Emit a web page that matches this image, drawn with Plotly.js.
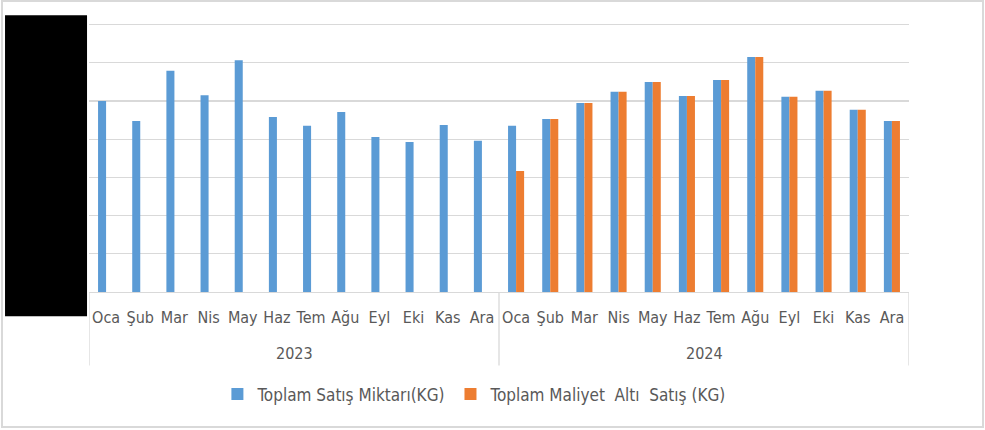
<!DOCTYPE html>
<html>
<head>
<meta charset="utf-8">
<script src="https://cdn.plot.ly/plotly-3.0.1.min.js"></script>
<style>
  body { margin: 0; background: #fff; }
  #wrap { position: relative; width: 985px; height: 430px; }
  #chart { width: 985px; height: 430px; }
  #frame {
    position: absolute; left: 1px; top: 0; width: 979px; height: 424px;
    border: 2px solid #d9d9d9; pointer-events: none;
  }
</style>
</head>
<body>
<div id="wrap">
  <div id="chart"></div>
  <div id="frame"></div>
</div>
<script>
/* global Plotly */
// y values read off the gridlines (one unit per gridline, axis labels are masked)
const years = ["2023", "2024"];
const months = ["Oca", "Şub", "Mar", "Nis", "May", "Haz", "Tem", "Ağu", "Eyl", "Eki", "Kas", "Ara"];

const satis2023 = [5.0, 4.48, 5.79, 5.15, 6.07, 4.58, 4.35, 4.71, 4.06, 3.93, 4.37, 3.96];
const satis2024 = [4.35, 4.53, 4.95, 5.24, 5.5, 5.13, 5.55, 6.15, 5.11, 5.27, 4.77, 4.48];
const maliyetAlti2023 = [null, null, null, null, null, null, null, null, null, null, null, null];
const maliyetAlti2024 = [3.17, 4.53, 4.95, 5.24, 5.5, 5.13, 5.55, 6.15, 5.11, 5.27, 4.77, 4.48];

const seriesNames = ["Toplam Satış Miktarı(KG)", "Toplam Maliyet  Altı  Satış (KG)"];
const colors = ["#5b9bd5", "#ed7d31"];

const textColor = "#595959";
const gridColor = "#d9d9d9";
const font = "'DejaVu Sans Condensed', 'Liberation Sans', sans-serif";

// one slot per (year, month); the month is the tick, the year goes below
const slots = [];
years.forEach((y) => months.forEach((m) => slots.push({ year: y, month: m })));
const xIdx = slots.map((_, i) => i);

function getTrace(name, values, color) {
  return {
    type: "bar",
    name,
    x: xIdx,
    y: values,
    marker: { color, line: { width: 0 } },
    hoverinfo: "skip",
  };
}

const plotData = [
  getTrace(seriesNames[0], satis2023.concat(satis2024), colors[0]),
  getTrace(seriesNames[1], maliyetAlti2023.concat(maliyetAlti2024), colors[1]),
];

// year labels and group dividers
const yearAnnotations = years.map((y, k) => ({
  xref: "x",
  yref: "paper",
  x: k * months.length + (months.length - 1) / 2,
  y: -0.224,
  yanchor: "middle",
  text: y,
  showarrow: false,
  font: { family: font, color: textColor, size: 16 },
}));

const dividers = [];
for (let k = 0; k <= years.length; k++) {
  dividers.push({
    type: "line",
    xref: "x",
    yref: "paper",
    x0: k * months.length - 0.5,
    x1: k * months.length - 0.5,
    y0: 0,
    y1: -0.2676,
    line: { color: gridColor, width: 1.3 },
  });
}

const layout = {
  width: 985,
  height: 430,
  margin: { l: 89, r: 76, t: 16.85, b: 137.7, pad: 0 },
  paper_bgcolor: "#ffffff",
  plot_bgcolor: "#ffffff",
  font: { family: font, color: textColor, size: 16 },
  barmode: "group",
  bargap: 0.53,
  bargroupgap: 0,
  xaxis: {
    range: [-0.5, slots.length - 0.5],
    tickmode: "array",
    tickvals: xIdx,
    ticktext: slots.map((s) => s.month),
    tickangle: 0,
    showline: true,
    linecolor: gridColor,
    linewidth: 1.3,
    ticks: "",
    showgrid: false,
    zeroline: false,
    tickfont: { family: font, color: textColor, size: 16 },
    ticklabelstandoff: 10,
  },
  yaxis: {
    range: [0, 7.2],
    dtick: 1,
    showgrid: true,
    gridcolor: gridColor,
    gridwidth: 1.3,
    zeroline: false,
    showline: false,
    showticklabels: false,
    ticks: "",
  },
  showlegend: true,
  legend: {
    orientation: "h",
    x: 0.47,
    xanchor: "center",
    y: -0.3728,
    yanchor: "middle",
    font: { family: font, color: textColor, size: 17 },
    bgcolor: "rgba(0,0,0,0)",
  },
  annotations: yearAnnotations,
  shapes: dividers.concat([
    {
      // masked y-axis labels
      type: "rect",
      xref: "paper",
      yref: "paper",
      x0: -0.1024,
      x1: -0.0024,
      y0: -0.0886,
      y1: 1.0067,
      fillcolor: "#000000",
      line: { width: 0 },
      layer: "above",
    },
  ]),
};

Plotly.newPlot(document.getElementById("chart"), plotData, layout, {
  displayModeBar: false,
  staticPlot: true,
});
</script>
</body>
</html>
